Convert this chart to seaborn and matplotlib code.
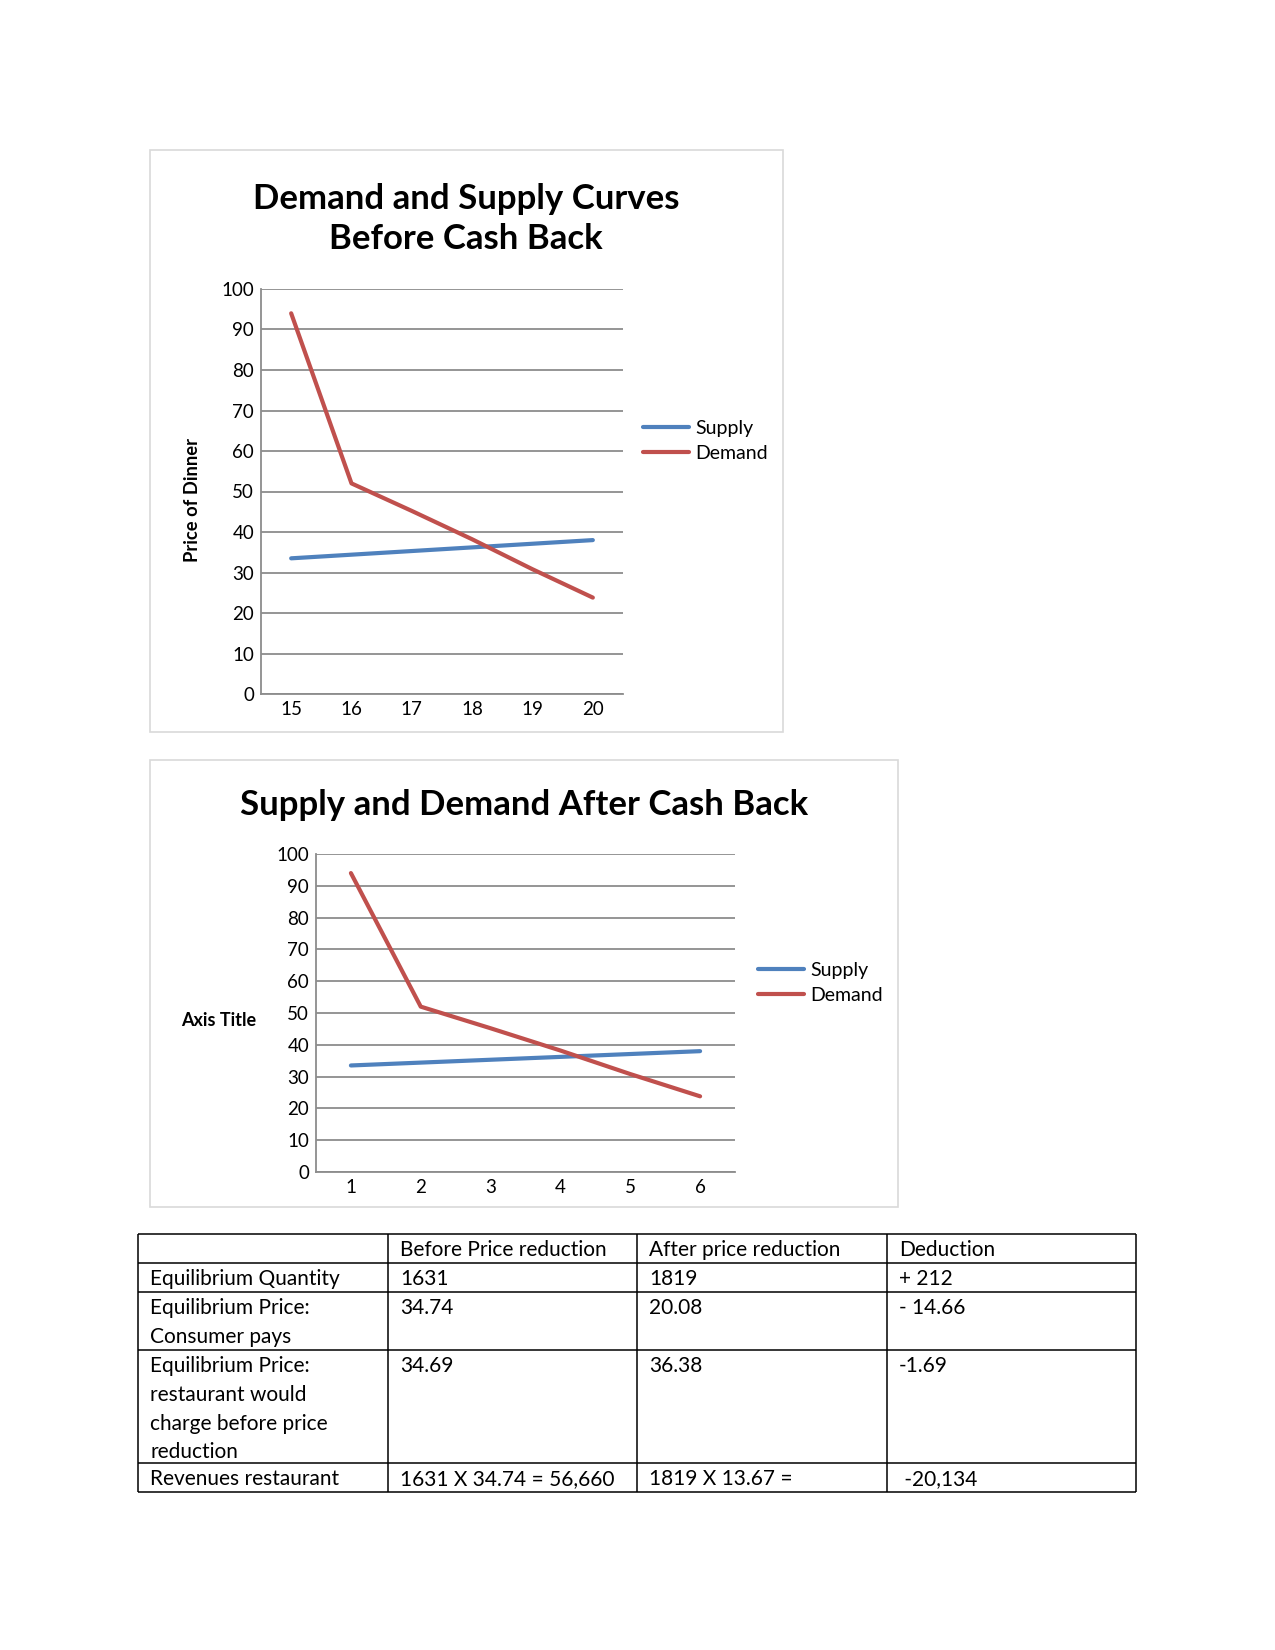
import pandas as pd
import matplotlib.pyplot as plt
import seaborn as sns
from matplotlib.patches import Rectangle

# chart data
quantity_before = ["15", "16", "17", "18", "19", "20"]
quantity_after = ["1", "2", "3", "4", "5", "6"]
supply_price = [33.5, 34.4, 35.3, 36.2, 37.1, 38.0]
demand_price = [94.0, 52.0, 45.2, 38.2, 30.8, 23.8]

# table data
table_header = ["", "Before Price reduction", "After price reduction", "Deduction"]
row_labels = [
    "Equilibrium Quantity",
    "Equilibrium Price:\nConsumer pays",
    "Equilibrium Price:\nrestaurant would\ncharge before price\nreduction",
    "Revenues restaurant",
]
before_col = ["1631", "34.74", "34.69", "1631 X 34.74 = 56,660"]
after_col = ["1819", "20.08", "36.38", "1819 X 13.67 ="]
deduction_col = ["+ 212", "- 14.66", "-1.69", " -20,134"]

sns.set_style("white")
plt.rcParams["font.family"] = ["Lato", "DejaVu Sans"]
plt.rcParams["text.color"] = "black"
plt.rcParams["xtick.color"] = "black"
plt.rcParams["ytick.color"] = "black"

W, H = 1275, 1650
fig = plt.figure(figsize=(W / 100, H / 100), dpi=100)


def box(x0, y0, x1, y1):
    # pixel box (top-left origin) -> figure fraction rect
    return [x0 / W, (H - y1) / H, (x1 - x0) / W, (y1 - y0) / H]


def fx(x):
    return x / W


def fy(y):
    return (H - y) / H


# outer chart frames
for (x0, y0, x1, y1) in [(150, 150, 783, 732), (150, 760, 898, 1207)]:
    fig.patches.append(Rectangle((fx(x0), fy(y1)), (x1 - x0) / W, (y1 - y0) / H,
                                 transform=fig.transFigure, fill=False,
                                 edgecolor="#d9d9d9", lw=1.2))


def draw_chart(rect, cats, legend_xy):
    ax = fig.add_axes(rect)
    df = pd.DataFrame({
        "pos": list(range(len(cats))) * 2,
        "price": supply_price + demand_price,
        "series": ["Supply"] * len(cats) + ["Demand"] * len(cats),
    })
    sns.lineplot(data=df, x="pos", y="price", hue="series",
                 palette={"Supply": "#4f81bd", "Demand": "#c0504d"},
                 linewidth=3.0, ax=ax, legend=True)
    ax.set_xlim(-0.5, len(cats) - 0.5)
    ax.set_ylim(0, 100)
    ax.set_xticks(range(len(cats)))
    ax.set_xticklabels(cats)
    ax.set_yticks(range(0, 101, 10))
    ax.tick_params(axis="both", length=0, labelsize=13.5, pad=5)
    ax.yaxis.grid(True, color="#8c8c8c", lw=1.3)
    ax.set_axisbelow(True)
    for s in ["top", "right"]:
        ax.spines[s].set_visible(False)
    for s in ["left", "bottom"]:
        ax.spines[s].set_color("#8c8c8c")
        ax.spines[s].set_linewidth(1.3)
    ax.set_xlabel("")
    ax.set_ylabel("")
    handles, labels = ax.get_legend_handles_labels()
    ax.legend(handles, labels, loc="center left",
              bbox_to_anchor=(fx(legend_xy[0]), fy(legend_xy[1])),
              bbox_transform=fig.transFigure, frameon=False, fontsize=14,
              handlelength=2.35, handletextpad=0.35, labelspacing=0.42,
              borderpad=0, borderaxespad=0)
    return ax


# chart 1
draw_chart(box(261, 289, 623, 694), quantity_before, (643, 441))
fig.text(fx(466), fy(219), "Demand and Supply Curves\nBefore Cash Back",
         ha="center", va="center", fontsize=25, fontweight="bold",
         linespacing=1.3)
fig.text(fx(193), fy(500), "Price of Dinner", rotation=90, ha="center",
         va="center", fontsize=13.2, fontweight="bold")

# chart 2
draw_chart(box(316, 854, 735, 1172), quantity_after, (758, 983))
fig.text(fx(524), fy(805), "Supply and Demand After Cash Back",
         ha="center", va="center", fontsize=25, fontweight="bold")
fig.text(fx(219), fy(1020), "Axis Title", ha="center", va="center",
         fontsize=13, fontweight="bold")

# table
col_x = [138, 388, 637, 887, 1136]
row_y = [1234, 1263, 1292, 1350, 1463, 1492]
tax = fig.add_axes([0, 0, 1, 1])
tax.set_xlim(0, W)
tax.set_ylim(H, 0)
tax.axis("off")
tax.hlines(row_y, col_x[0], col_x[-1], color="black", lw=1.1)
tax.vlines(col_x, row_y[0], row_y[-1], color="black", lw=1.1)

rows = [table_header] + [
    [row_labels[i], before_col[i], after_col[i], deduction_col[i]]
    for i in range(len(row_labels))
]
for r, row in enumerate(rows):
    for c, txt in enumerate(row):
        tax.text(col_x[c] + 12, row_y[r] + 6, txt, ha="left", va="top",
                 fontsize=15, linespacing=1.55)

fig.savefig("out.png", dpi=100)
